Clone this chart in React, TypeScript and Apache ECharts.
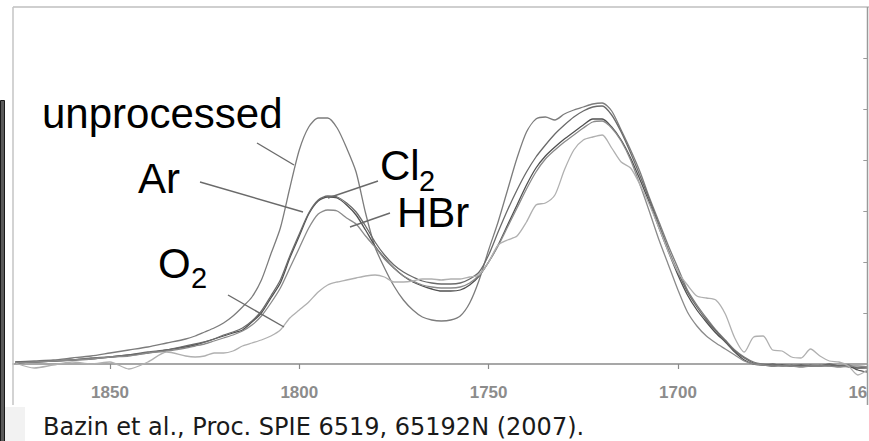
import React, { useEffect, useRef } from "react";
import * as echarts from "echarts";

// wavenumbers (cm-1)
const wavenumbers = [
  1875, 1870, 1865, 1860, 1855, 1850, 1845, 1840, 1835, 1830,
  1827.5, 1825, 1822.5, 1820, 1817.5, 1815, 1812.5, 1810, 1807.5, 1805,
  1802.5, 1800, 1797.5, 1795, 1792.5, 1790, 1787.5, 1785, 1782.5, 1780,
  1777.5, 1775, 1772.5, 1770, 1767.5, 1765, 1762.5, 1760, 1757.5, 1755,
  1752.5, 1750, 1747.5, 1745, 1742.5, 1740, 1737.5, 1735, 1732.5, 1730,
  1727.5, 1725, 1722.5, 1720, 1717.5, 1715, 1712.5, 1710, 1707.5, 1705,
  1702.5, 1700, 1697.5, 1695, 1692.5, 1690, 1687.5, 1685, 1682.5, 1680,
  1677.5, 1675, 1672.5, 1670, 1667.5, 1665, 1662.5, 1660, 1657.5, 1655,
  1652.5, 1650,
];

// absorbance (arbitrary units)
const unprocessed = [
  2, 3, 4, 6, 8, 11, 14, 17, 21, 25,
  28, 32, 36, 41, 48, 57, 67, 84, 110, 136,
  176, 214, 237, 246, 246, 236, 216, 192, 151, 117,
  96, 78, 64, 54, 47, 44, 43, 44, 48, 61,
  84, 114, 142, 174, 206, 232, 245, 247, 244, 250,
  254, 257, 260, 261, 253, 234, 214, 192, 166, 142,
  118, 96, 74, 59, 46, 34, 24, 14, 7, 2,
  0, -1, -1, -2, -2, -2, -1, -2, -2, -3,
  -4, -3,
];
const ar = [
  1, 2, 3, 4, 5, 7, 9, 11, 14, 17,
  19, 22, 25, 28, 31, 34, 42, 51, 66, 81,
  106, 128, 150, 163, 167, 166, 159, 149, 134, 118,
  106, 96, 88, 82, 78, 75, 73, 73, 74, 79,
  88, 102, 119, 139, 159, 179, 196, 208, 217, 225,
  232, 239, 245, 245, 237, 224, 206, 184, 161, 136,
  112, 89, 69, 54, 42, 31, 22, 12, 4, 0,
  -1, -2, -1, -2, -1, -2, -2, -1, -2, -2,
  -6, -8,
];
const cl2 = [
  2, 2, 3, 4, 6, 7, 9, 12, 14, 18,
  20, 22, 25, 29, 32, 36, 43, 53, 68, 84,
  108, 130, 151, 164, 168, 167, 161, 152, 138, 122,
  109, 99, 92, 87, 83, 81, 80, 80, 81, 85,
  92, 109, 132, 154, 174, 192, 207, 219, 230, 239,
  247, 253, 257, 258, 249, 232, 211, 188, 164, 139,
  114, 92, 72, 57, 44, 33, 23, 13, 6, 1,
  -1, 0, -2, -1, -2, -1, -2, 0, -2, -1,
  -4, -4,
];
const hbr = [
  1, 2, 3, 4, 5, 7, 8, 11, 13, 16,
  18, 20, 23, 26, 29, 33, 39, 48, 61, 76,
  96, 116, 136, 150, 154, 153, 146, 140, 128, 117,
  105, 96, 88, 83, 79, 77, 76, 76, 77, 81,
  89, 102, 118, 137, 156, 175, 192, 205, 214, 222,
  229, 236, 242, 243, 236, 223, 204, 179, 152, 124,
  99, 74, 52, 38, 28, 21, 15, 9, 3, 0,
  -1, -2, -2, -2, -3, -2, -2, -2, -3, -2,
  -2, -3,
];
const o2 = [
  1, -4, -1, 2, 0, 2, -5, 2, 12, 8,
  7, 8, 11, 11, 13, 18, 21, 24, 28, 34,
  46, 54, 62, 72, 79, 82, 84, 86, 88, 89,
  87, 82, 82, 83, 85, 85, 84, 85, 85, 87,
  89, 102, 119, 124, 128, 142, 159, 161, 169, 194,
  214, 224, 227, 229, 216, 202, 196, 179, 159, 136,
  112, 92, 79, 68, 66, 64, 50, 26, 12, 27,
  28, 14, 13, 7, 6, 15, 8, 3, 2, -2,
  -11, -6,
];

const xTicks = [1650, 1700, 1750, 1800, 1850];
const yTicks = [51, 102, 153, 204, 255, 306];

const seriesDefs = [
  { name: "unprocessed", values: unprocessed, color: "#7c7c7c" },
  { name: "Ar", values: ar, color: "#505050" },
  { name: "Cl2", values: cl2, color: "#6a6a6a" },
  { name: "HBr", values: hbr, color: "#8a8a8a" },
  { name: "O2", values: o2, color: "#b0b0b0" },
];

const LABEL_FONT = "Liberation Sans, Arial, sans-serif";

export default function App() {
  const ref = useRef<HTMLDivElement>(null);
  useEffect(() => {
    if (!ref.current) return;
    const chart = echarts.init(ref.current, null, { renderer: "svg" });
    const leader = (x1: number, y1: number, x2: number, y2: number) => ({
      type: "line",
      shape: { x1, y1, x2, y2 },
      style: { stroke: "#6a6a6a", lineWidth: 1.4 },
      z: 20,
    });
    const label = (text: string, x: number, y: number, size: number) => ({
      type: "text",
      x,
      y,
      style: {
        text,
        fill: "#000",
        font: `${size}px ${LABEL_FONT}`,
        lineHeight: Math.round(size * 0.85),
        verticalAlign: "middle",
        align: "left",
      },
      z: 30,
    });
    chart.setOption({
      animation: false,
      backgroundColor: "#ffffff",
      grid: {
        left: 13,
        right: 1.7,
        top: 7,
        bottom: 77,
        containLabel: false,
        outerBoundsMode: "none",
      },
      xAxis: {
        type: "value",
        inverse: true,
        min: 1650,
        max: 1875.6,
        axisLine: { onZero: false, lineStyle: { color: "#8a8a8a", width: 1.5 } },
        axisTick: {
          show: true,
          customValues: xTicks,
          length: 5,
          lineStyle: { color: "#8a8a8a", width: 1.2 },
        },
        axisLabel: {
          customValues: xTicks,
          margin: 20,
          color: "#8c8c8c",
          fontSize: 17,
          fontWeight: "bold",
          fontFamily: LABEL_FONT,
          formatter: (v: number) => String(v),
        },
        splitLine: { show: false },
      },
      yAxis: {
        type: "value",
        position: "right",
        min: 0,
        max: 357,
        axisLine: { show: false },
        axisTick: {
          show: true,
          inside: true,
          length: 4,
          customValues: yTicks,
          lineStyle: { color: "#9a9a9a" },
        },
        axisLabel: { show: false },
        splitLine: { show: false },
      },
      series: seriesDefs.map((s) => ({
        name: s.name,
        type: "line",
        showSymbol: false,
        smooth: 0.25,
        clip: false,
        data: wavenumbers.map((w, i) => [w, s.values[i]]),
        lineStyle: { color: s.color, width: 1.3 },
        z: 5,
      })),
      graphic: [
        // frame
        { type: "line", shape: { x1: 13, y1: 7, x2: 869, y2: 7 }, style: { stroke: "#cfcfcf", lineWidth: 2 }, z: 1 },
        { type: "line", shape: { x1: 13, y1: 7, x2: 13, y2: 405 }, style: { stroke: "#c4c4c4", lineWidth: 1.5 }, z: 1 },
        { type: "rect", shape: { x: 868, y: 370, width: 2, height: 36 }, style: { fill: "#ffffff" }, z: 40 },
        { type: "line", shape: { x1: 867.5, y1: 7, x2: 867.5, y2: 405 }, style: { stroke: "#9a9a9a", lineWidth: 1.5 }, z: 41 },
        { type: "rect", shape: { x: 5, y: 407, width: 20, height: 34 }, style: { fill: "#f2f2f2" }, z: 1 },
        { type: "rect", shape: { x: 0.5, y: 100.5, width: 4, height: 341 }, style: { fill: "#5a5a5a", stroke: "#1a1a1a", lineWidth: 1 }, z: 1 },
        // leader lines
        leader(257, 143, 294, 165),
        leader(200, 182, 303, 212),
        leader(378, 181, 328, 198),
        leader(390, 213, 350, 227),
        leader(228, 295, 284, 327),
        // labels
        label("unprocessed", 42, 113.5, 42),
        label("Ar", 138, 178.5, 42),
        label("Cl", 380, 165.5, 42),
        label("2", 419, 180.5, 29),
        label("HBr", 397, 212, 42),
        label("O", 158, 263.5, 42),
        label("2", 191, 278, 29),
        {
          type: "text",
          x: 43,
          y: 427,
          style: {
            text: "Bazin et al., Proc. SPIE 6519, 65192N (2007).",
            fill: "#1a1a1a",
            font: "24px 'DejaVu Sans', sans-serif",
            verticalAlign: "middle",
            align: "left",
          },
          z: 30,
        },
      ],
    });
    return () => chart.dispose();
  }, []);
  return (
    <div
      ref={ref}
      style={{ position: "fixed", left: 0, top: 0, width: 869, height: 441 }}
    />
  );
}
